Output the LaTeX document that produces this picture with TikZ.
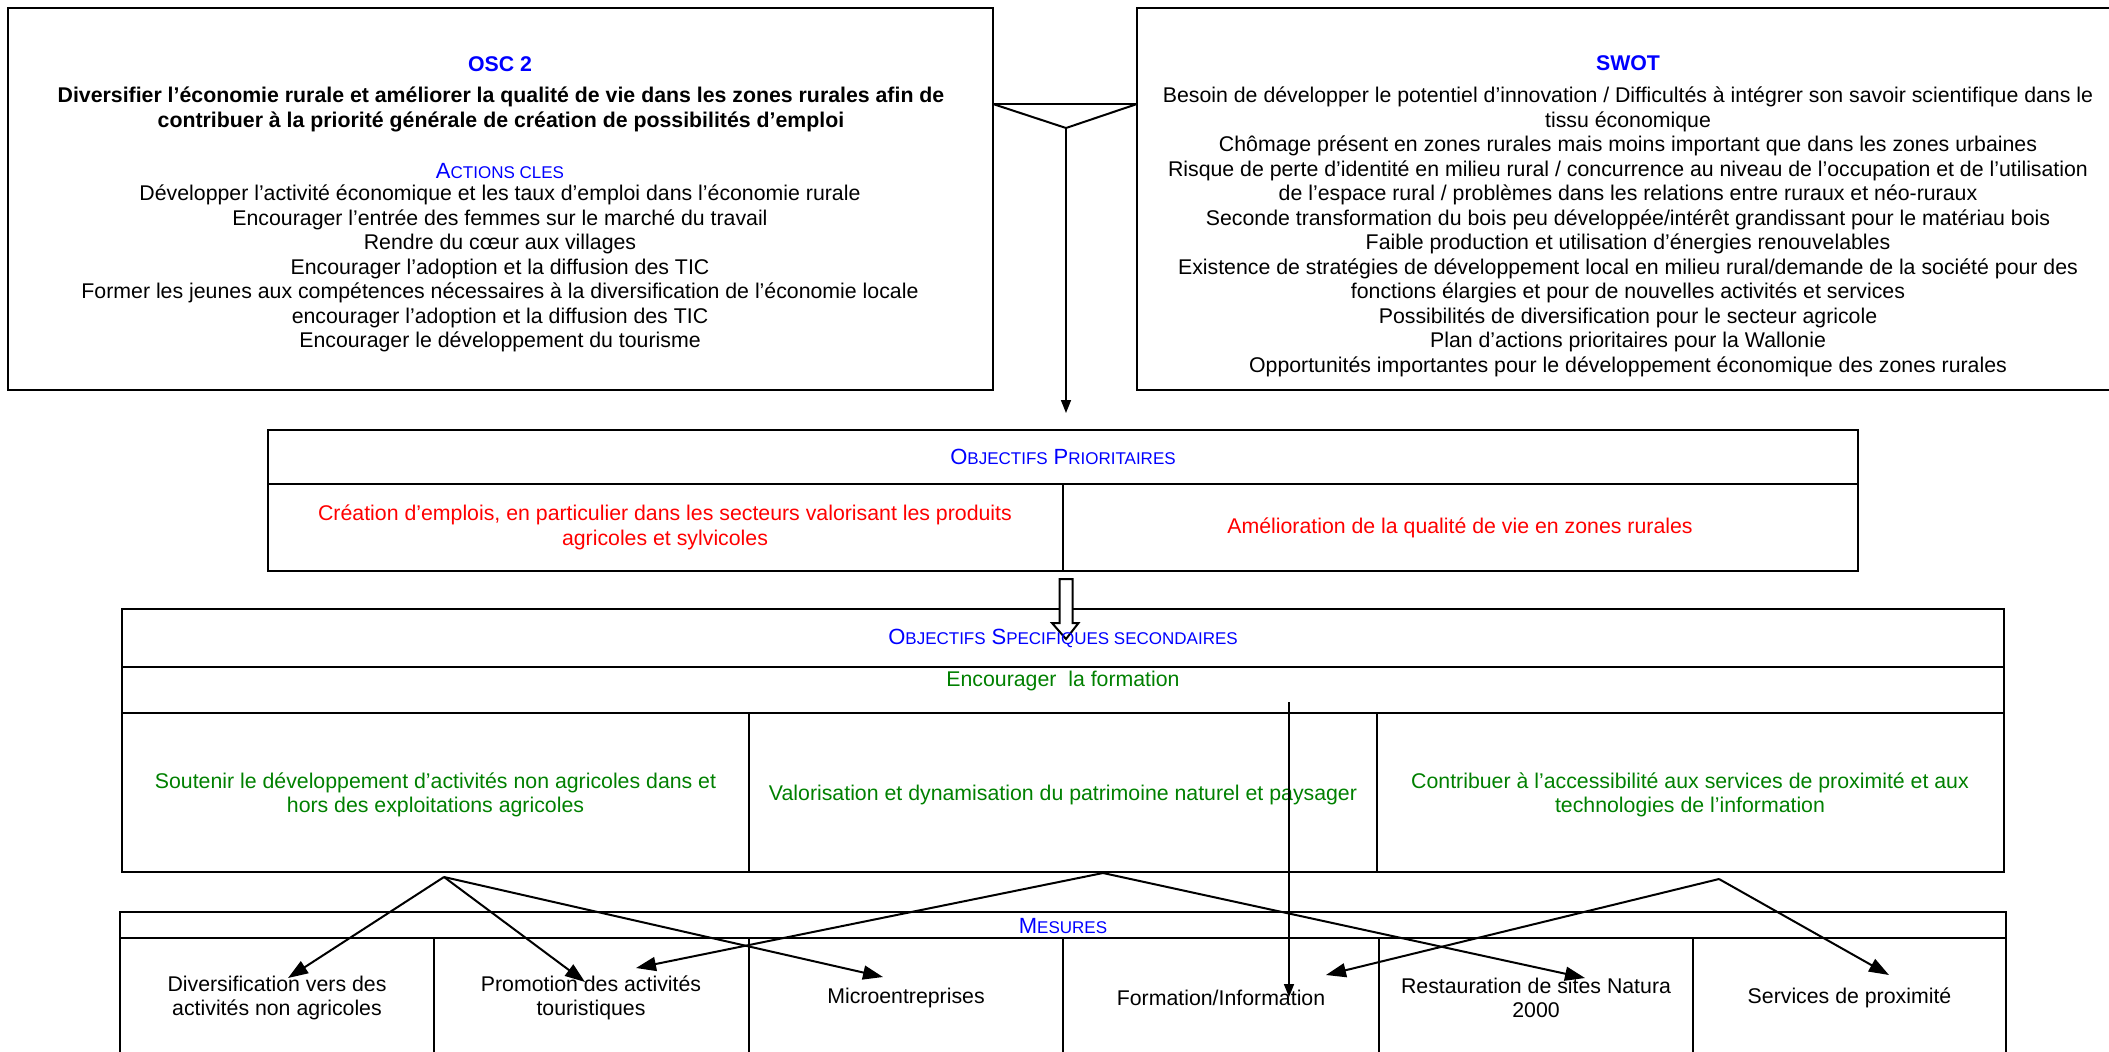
\documentclass[tikz,border=0pt]{standalone}
\usepackage{fontspec}
\setmainfont{Liberation Sans}
\usetikzlibrary{arrows.meta,fit,calc}
\definecolor{hdblue}{RGB}{0,0,255}
\definecolor{prred}{RGB}{255,0,0}
\definecolor{ojgreen}{RGB}{0,128,0}
% fake small capitals for the table headers
\newcommand\bigcp[1]{{\fontsize{11}{13}\selectfont #1}}
\newcommand\smallcp[1]{{\fontsize{8.5}{10}\selectfont #1}}
\begin{document}
\begin{tikzpicture}[x=0.5pt,y=-0.5pt,
  frame/.style={draw,line width=1.3pt,inner sep=0pt,outer sep=0pt},
  rule/.style={line width=1.3pt},
  divider/.style={line width=1pt},
  txt/.style={inner sep=0pt,align=center,font=\fontsize{10.65}{12.25}\selectfont},
  conn/.style={line width=1pt,-{Triangle[length=10pt,width=7pt]}},
  thinconn/.style={line width=0.8pt,-{Triangle[length=6.5pt,width=5pt]}}]

\useasboundingbox (0,0) rectangle (2109,1051);
\clip (0,0) rectangle (2109,1051);

% ---- OSC 2 box ----
\node[frame,fit={(8,8)(993,390)}] (osc) {};
\node[txt] (osctitle) at (500,64) {\bfseries\color{hdblue}OSC 2};
\node[txt,font=\fontsize{10.65}{12.5}\selectfont\bfseries] (oscgoal) at (501,109.5)
  {Diversifier l’économie rurale et améliorer la qualité de vie dans les zones rurales afin de\\
   contribuer à la priorité générale de création de possibilités d’emploi};
\node[txt,text=hdblue] (actionshd) at (500,171) {\bigcp{A}\smallcp{CTIONS CLES}};
\node[txt] (actions) at (500,268.5)
  {Développer l’activité économique et les taux d’emploi dans l’économie rurale\\
   Encourager l’entrée des femmes sur le marché du travail\\
   Rendre du cœur aux villages\\
   Encourager l’adoption et la diffusion des TIC\\
   Former les jeunes aux compétences nécessaires à la diversification de l’économie locale\\
   encourager l’adoption et la diffusion des TIC\\
   Encourager le développement du tourisme};

% ---- SWOT box ----
\node[frame,fit={(1137,8)(2120,390)}] (swot) {};
\node[txt] (swottitle) at (1628,63) {\bfseries\color{hdblue}SWOT};
\node[txt] (swotbody) at (1628,232)
  {Besoin de développer le potentiel d’innovation / Difficultés à intégrer son savoir scientifique dans le\\
   tissu économique\\
   Chômage présent en zones rurales mais moins important que dans les zones urbaines\\
   Risque de perte d’identité en milieu rural / concurrence au niveau de l’occupation et de l’utilisation\\
   de l’espace rural / problèmes dans les relations entre ruraux et néo-ruraux\\
   Seconde transformation du bois peu développée/intérêt grandissant pour le matériau bois\\
   Faible production et utilisation d’énergies renouvelables\\
   Existence de stratégies de développement local en milieu rural/demande de la société pour des\\
   fonctions élargies et pour de nouvelles activités et services\\
   Possibilités de diversification pour le secteur agricole\\
   Plan d’actions prioritaires pour la Wallonie\\
   Opportunités importantes pour le développement économique des zones rurales};

% ---- Objectifs prioritaires ----
\node[frame,fit={(268,430)(1858,571)}] (prio) {};
\draw[rule] (prio.west |- 0,484) -- (prio.east |- 0,484);
\draw[divider] (1063,484) -- (prio.south -| 1063,0);
\node[txt,text=hdblue] (priohd) at (1063,457)
  {\bigcp{O}\smallcp{BJECTIFS} \bigcp{P}\smallcp{RIORITAIRES}};
\node[txt,text=prred] (prio1) at (665,527.5)
  {Création d’emplois, en particulier dans les secteurs valorisant les produits\\agricoles et sylvicoles};
\node[txt,text=prred] (prio2) at (1460,528) {Amélioration de la qualité de vie en zones rurales};

% ---- merge of OSC 2 and SWOT into the priorities ----
\coordinate (funnel) at (1066,128);
\draw[line width=1pt] (osc.east |- 0,104) -- (swot.west |- 0,104);
\draw[line width=1pt,line join=miter] (osc.east |- 0,104) -- (funnel) -- (swot.west |- 0,104);
\draw[thinconn,shorten >=8.5pt] (funnel) -- (prio.north -| funnel);

% ---- Objectifs specifiques secondaires ----
\node[frame,fit={(122,609)(2004,872)}] (sec) {};
\draw[rule] (sec.west |- 0,667) -- (sec.east |- 0,667);
\draw[rule] (sec.west |- 0,713) -- (sec.east |- 0,713);
\draw[divider] (749,713) -- (sec.south -| 749,0);
\draw[divider] (1377,713) -- (sec.south -| 1377,0);

% hollow block arrow from the priorities down to the secondary objectives
\draw[line width=1pt,fill=white,line join=miter]
  ($(prio.south -| 1066,0)+(-6.5,8)$) -- ++(13,0) -- ++(0,44) -- ++(6,0)
  -- ($(prio.south -| 1066,0)+(0,68)$) -- ++(-14,-16) -- ++(7.5,0) -- cycle;

\node[txt,text=hdblue] (sechd) at (1063,638)
  {\bigcp{O}\smallcp{BJECTIFS} \bigcp{S}\smallcp{PECIFIQUES SECONDAIRES}};
\node[txt,text=ojgreen] (sectrain) at (1063,681) {Encourager\ \ la formation};
\node[txt,text=ojgreen] (sec1) at (435.5,795)
  {Soutenir le développement d’activités non agricoles dans et\\hors des exploitations agricoles};
\node[txt,text=ojgreen] (sec2) at (1063,795)
  {Valorisation et dynamisation du patrimoine naturel et paysager};
\node[txt,text=ojgreen] (sec3) at (1690,795)
  {Contribuer à l’accessibilité aux services de proximité et aux\\technologies de l’information};

% ---- Mesures ----
\node[frame,fit={(120,912)(2006,1080)}] (mes) {};
\draw[rule] (mes.west |- 0,938) -- (mes.east |- 0,938);
\foreach \xx in {433.5,749,1063,1379,1693}
  \draw[divider] (\xx,938) -- (mes.south -| \xx,0);
\node[txt,text=hdblue] (meshd) at (1063,926) {\bigcp{M}\smallcp{ESURES}};
\node[txt] (m1) at (277,998) {Diversification vers des\\activités non agricoles};
\node[txt] (m2) at (591,998) {Promotion des activités\\touristiques};
\node[txt] (m3) at (906,998) {Microentreprises};
\node[txt] (m4) at (1221,998) {Formation/Information};
\node[txt] (m5) at (1536,998) {Restauration de sites Natura\\2000};
\node[txt] (m6) at (1849.5,998) {Services de proximité};

% ---- links from the secondary objectives to the measures ----
\coordinate (srcA) at (444,877);
\coordinate (srcB) at (1103,873);
\coordinate (srcC) at (1719,879);
\coordinate (tipA1) at (288,978);
\coordinate (tipA2) at (585,982);
\coordinate (tipA3) at (883,977);
\coordinate (tipB1) at (636,968);
\coordinate (tipB2) at (1585,978);
\coordinate (tipC1) at (1326,975);
\coordinate (tipC2) at (1889,975);
\coordinate (trainstart) at (1289,702);
\coordinate (traintip) at (1289,997);

\draw[conn] (srcA) -- (tipA1);
\draw[conn] (srcA) -- (tipA2);
\draw[conn] (srcA) -- (tipA3);
\draw[conn] (srcB) -- (tipB1);
\draw[conn] (srcB) -- (tipB2);
\draw[conn] (srcC) -- (tipC1);
\draw[conn] (srcC) -- (tipC2);
\draw[thinconn] (trainstart) -- (traintip);
\end{tikzpicture}
\end{document}
